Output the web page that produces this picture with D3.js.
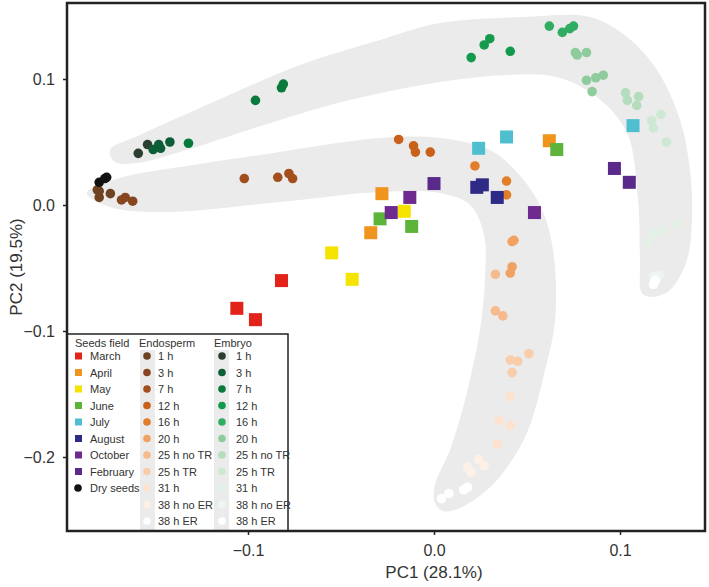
<!DOCTYPE html>
<html><head><meta charset="utf-8">
<script src="https://cdn.jsdelivr.net/npm/d3@7/dist/d3.min.js"></script>
<style>body{margin:0;background:#fff;}svg text{font-family:"Liberation Sans",Arial,sans-serif;}</style>
</head><body><svg id="c" width="709" height="587"></svg>
<script>
// ---------- data (PC1, PC2) ----------
const xTicks = [-0.1, 0.0, 0.1];
const yTicks = [0.1, 0.0, -0.1, -0.2];
const xTitle = "PC1 (28.1%)";
const yTitle = "PC2 (19.5%)";

const fieldNames = ["March","April","May","June","July","August","October","February","Dry seeds"];
const fieldColors = ["#e2231a","#f0941d","#f5e400","#5db43a","#4fbfd0","#2e2a86","#6e2a8f","#5a2a8a","#111111"];
const fieldPoints = [
  [[-0.106,-0.082],[-0.096,-0.091],[-0.082,-0.060]],
  [[-0.028,0.009],[-0.034,-0.022],[0.062,0.051]],
  [[-0.016,-0.005],[-0.055,-0.038],[-0.044,-0.059]],
  [[-0.029,-0.011],[-0.012,-0.017],[0.066,0.044]],
  [[0.024,0.045],[0.039,0.054],[0.107,0.063]],
  [[0.023,0.014],[0.026,0.016],[0.034,0.006]],
  [[-0.013,0.006],[-0.023,-0.006],[0.054,-0.006]],
  [[0.000,0.017],[0.097,0.029],[0.105,0.018]],
  [[-0.180,0.018],[-0.177,0.021],[-0.176,0.022]]
];

const timeNames = ["1 h","3 h","7 h","12 h","16 h","20 h","25 h no TR","25 h TR","31 h","38 h no ER","38 h ER"];
const endoColors = ["#6e4322","#87461f","#a34f1d","#c9611a","#e27d2a","#f1a262","#f6ba8c","#f9cdaa","#fce2cf","#fdf0e6","#ffffff"];
const embColors  = ["#2b3f30","#0c5e37","#0a7a3c","#139a4c","#30ad62","#8fcc9d","#b4ddbd","#cde8d3","#e3f1e6","#eef6f0","#ffffff"];
const endoPoints = [
  [[-0.181,0.012],[-0.180,0.011],[-0.180,0.006],[-0.174,0.009]],
  [[-0.168,0.004],[-0.166,0.006],[-0.162,0.003]],
  [[-0.102,0.021],[-0.084,0.022],[-0.078,0.025],[-0.076,0.021]],
  [[-0.019,0.052],[-0.011,0.047],[-0.010,0.042],[-0.002,0.042]],
  [[0.022,0.031],[0.039,0.019],[0.039,0.008]],
  [[0.042,-0.029],[0.043,-0.028],[0.042,-0.049],[0.041,-0.054]],
  [[0.033,-0.055],[0.033,-0.084],[0.037,-0.088]],
  [[0.041,-0.123],[0.045,-0.124],[0.051,-0.118],[0.042,-0.133]],
  [[0.041,-0.152],[0.035,-0.171],[0.041,-0.175],[0.034,-0.190]],
  [[0.024,-0.202],[0.027,-0.207],[0.018,-0.208],[0.020,-0.212]],
  [[0.016,-0.226],[0.018,-0.224],[0.004,-0.233],[0.008,-0.229]]
];
const embPoints = [
  [[-0.159,0.041],[-0.154,0.048]],
  [[-0.151,0.044],[-0.148,0.048],[-0.147,0.045],[-0.142,0.050]],
  [[-0.132,0.049],[-0.096,0.083],[-0.082,0.093],[-0.081,0.096]],
  [[0.020,0.117],[0.027,0.127],[0.030,0.132],[0.041,0.122]],
  [[0.062,0.142],[0.069,0.137],[0.073,0.140],[0.075,0.142]],
  [[0.076,0.121],[0.077,0.119],[0.082,0.121],[0.082,0.099],[0.087,0.101],[0.091,0.103],[0.085,0.090]],
  [[0.103,0.089],[0.104,0.083],[0.110,0.086],[0.109,0.079]],
  [[0.117,0.067],[0.122,0.072],[0.118,0.061],[0.125,0.050]],
  [[0.115,-0.030],[0.118,-0.023],[0.123,-0.021],[0.131,-0.015]],
  [[0.118,-0.057],[0.121,-0.056]],
  [[0.118,-0.063],[0.119,-0.060]]
];

// grey envelopes (outline vertices in PC units)
const endoBand = [[-0.1866,0.0095],[-0.1688,0.0214],[-0.1296,0.0317],[-0.0935,0.0397],[-0.0290,0.0532],[0.0032,0.0532],[0.0301,0.0437],[0.0435,0.0278],[0.0570,0.0],[0.0640,-0.0357],[0.0651,-0.0913],[0.0597,-0.1310],[0.0500,-0.1810],[0.0382,-0.2103],[0.0285,-0.2262],[0.0140,-0.2405],[0.0048,-0.2429],[0.0005,-0.2365],[0.0005,-0.2222],[0.0086,-0.1944],[0.0167,-0.1548],[0.0247,-0.0992],[0.0274,-0.0595],[0.0269,-0.0238],[0.0194,0.0],[0.0032,0.0095],[-0.0290,0.0103],[-0.0828,0.0024],[-0.1473,-0.0056],[-0.1742,-0.0016]];
const embBand = [[-0.1742,0.0437],[-0.1581,0.0556],[-0.1258,0.0770],[-0.0720,0.1111],[-0.0290,0.1310],[0.0032,0.1444],[0.0478,0.1492],[0.0839,0.1492],[0.1038,0.1333],[0.1199,0.1071],[0.1323,0.0675],[0.1376,0.0278],[0.1387,-0.0119],[0.1360,-0.0437],[0.1269,-0.0675],[0.1177,-0.0730],[0.1118,-0.0698],[0.1108,-0.0437],[0.1097,0.0040],[0.1038,0.0571],[0.0876,0.0857],[0.0661,0.1016],[0.0392,0.1032],[0.0032,0.0976],[-0.0452,0.0833],[-0.0828,0.0675],[-0.1366,0.0421],[-0.1597,0.0333],[-0.1715,0.0341]];
</script>
<script>
const svg = d3.select("#c");
const L = 67, R = 705, T = 3, B = 531;
const x = d3.scaleLinear().domain([-0.1, 0.1]).range([248, 620]);
const y = d3.scaleLinear().domain([0.1, -0.1]).range([79, 331]);

svg.append("clipPath").attr("id","clip").append("rect")
  .attr("x",L).attr("y",T).attr("width",R-L).attr("height",B-T);
const plot = svg.append("g").attr("clip-path","url(#clip)");

const band = d3.line().x(d=>x(d[0])).y(d=>y(d[1])).curve(d3.curveCatmullRomClosed.alpha(0.5));
plot.selectAll("path.band").data([endoBand, embBand]).join("path")
  .attr("class","band").attr("d", band).attr("fill","#ebebeb");

function drawCircles(groups, colors){
  groups.forEach((pts,i)=>{
    plot.append("g").selectAll("circle").data(pts).join("circle")
      .attr("cx",d=>x(d[0])).attr("cy",d=>y(d[1])).attr("r",4.8)
      .attr("fill",colors[i]);
  });
}
drawCircles(endoPoints, endoColors);
drawCircles(embPoints, embColors);

const sq = 13;
fieldPoints.forEach((pts,i)=>{
  const g = plot.append("g");
  if (fieldNames[i] === "Dry seeds") {
    g.selectAll("circle").data(pts).join("circle")
      .attr("cx",d=>x(d[0])).attr("cy",d=>y(d[1])).attr("r",4.8).attr("fill",fieldColors[i]);
  } else {
    g.selectAll("rect").data(pts).join("rect")
      .attr("x",d=>x(d[0])-sq/2).attr("y",d=>y(d[1])-sq/2)
      .attr("width",sq).attr("height",sq).attr("fill",fieldColors[i]);
  }
});

const fmt = d3.format(".1f");
const xa = svg.append("g").attr("transform",`translate(0,${B})`)
  .call(d3.axisBottom(x).tickValues(xTicks).tickFormat(fmt).tickSize(4).tickPadding(10));
const ya = svg.append("g").attr("transform",`translate(${L},0)`)
  .call(d3.axisLeft(y).tickValues(yTicks).tickFormat(fmt).tickSize(4).tickPadding(8));
[xa,ya].forEach(a=>{
  a.select(".domain").remove();
  a.selectAll(".tick line").attr("stroke","#222").attr("stroke-width",1.5);
  a.selectAll(".tick text").attr("font-size",16).attr("fill","#333")
    .attr("font-family","'Liberation Sans',Arial,sans-serif");
});

svg.append("text").attr("x",434).attr("y",578).attr("text-anchor","middle")
  .attr("font-size",17).attr("fill","#333").text(xTitle);
svg.append("text").attr("transform",`translate(22,${(T+B)/2}) rotate(-90)`)
  .attr("text-anchor","middle").attr("font-size",17).attr("fill","#333").text(yTitle);

// legend
const lg = svg.append("g");
const lx0 = L, ly0 = 334, lx1 = 288;
lg.append("rect").attr("x",lx0).attr("y",ly0).attr("width",lx1-lx0).attr("height",B-ly0)
  .attr("fill","#fff").attr("stroke","#222").attr("stroke-width",1.5);
const rowY = i => 356 + i*16.5;
const ls = 11;
lg.append("text").attr("x",75).attr("y",347).attr("font-size",ls).attr("fill","#333").text("Seeds field");
lg.append("text").attr("x",139).attr("y",347).attr("font-size",ls).attr("fill","#333").text("Endosperm");
lg.append("text").attr("x",214).attr("y",347).attr("font-size",ls).attr("fill","#333").text("Embryo");
lg.append("rect").attr("x",140).attr("y",350).attr("width",15).attr("height",B-350).attr("fill","#ebebeb");
lg.append("rect").attr("x",214).attr("y",350).attr("width",15).attr("height",B-350).attr("fill","#ebebeb");
fieldNames.forEach((n,i)=>{
  if (n === "Dry seeds") {
    lg.append("circle").attr("cx",78).attr("cy",rowY(i)).attr("r",3.8).attr("fill",fieldColors[i]);
  } else {
    lg.append("rect").attr("x",75).attr("y",rowY(i)-3.5).attr("width",7).attr("height",7).attr("fill",fieldColors[i]);
  }
  lg.append("text").attr("x",90).attr("y",rowY(i)+4).attr("font-size",ls).attr("fill","#333").text(n);
});
timeNames.forEach((n,i)=>{
  lg.append("circle").attr("cx",147).attr("cy",rowY(i)).attr("r",3.8).attr("fill",endoColors[i]);
  lg.append("text").attr("x",158).attr("y",rowY(i)+4).attr("font-size",ls).attr("fill","#333").text(n);
  lg.append("circle").attr("cx",222).attr("cy",rowY(i)).attr("r",3.8).attr("fill",embColors[i]);
  lg.append("text").attr("x",236).attr("y",rowY(i)+4).attr("font-size",ls).attr("fill","#333").text(n);
});

svg.append("rect").attr("x",L).attr("y",T).attr("width",R-L).attr("height",B-T)
  .attr("fill","none").attr("stroke","#222").attr("stroke-width",2.5);
</script>
</body></html>
